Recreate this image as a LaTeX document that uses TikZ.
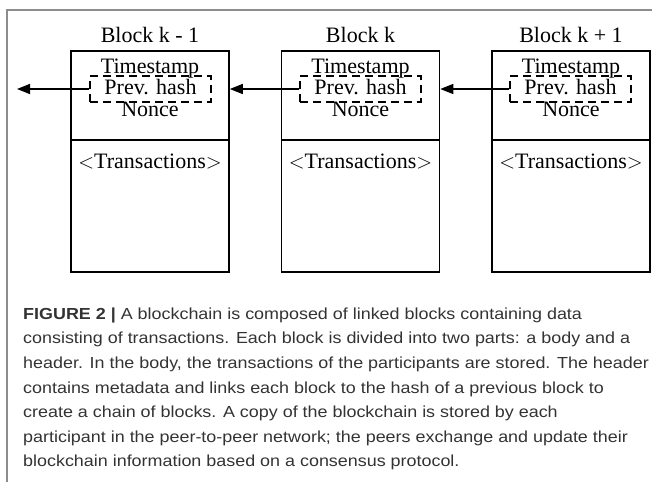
\documentclass[tikz,border=0pt]{standalone}
\usepackage{fontspec}
\setmainfont{Liberation Serif}
\newfontfamily\leyendafont[FakeStretch=1.12]{Liberation Sans}
\usetikzlibrary{arrows.meta}
\tikzset{
  bloque/.style={draw, line width=1.6pt, minimum width=158pt, inner sep=0pt},
  hashcaja/.style={draw, dash pattern=on 8pt off 5pt, line width=1.5pt, minimum width=121pt,
    minimum height=26pt, inner sep=0pt, text height=15pt, text depth=4pt, font=\fontsize{22}{24}\selectfont},
  texto/.style={font=\fontsize{22}{24}\selectfont, anchor=base, inner sep=0pt},
  flecha/.style={-{Triangle[length=13pt,width=10pt]}, line width=1.5pt},
  marco/.style={draw=black!45, line width=1.2pt},
  leyenda/.style={font=\leyendafont\fontsize{16}{24.6}\selectfont, text=black!80, align=left,
    anchor=base west, inner sep=0pt},
}
\begin{document}
\begin{tikzpicture}[x=1pt,y=-1pt] %Cadena de bloques
            \useasboundingbox (0,0) rectangle (652,482);
            \draw[marco] (7,482) -- (7,10) -- (652,10);

            % cabecera y cuerpo de cada bloque
            \node[bloque, minimum height=89pt] (cab1) at (150,95.5) {};
            \node[bloque, minimum height=132pt] (cuerpo1) at (150,206) {};
            \node[bloque, minimum height=89pt] (cab2) at (360.5,95.5) {};
            \node[bloque, minimum height=132pt] (cuerpo2) at (360.5,206) {};
            \node[bloque, minimum height=89pt] (cab3) at (571,95.5) {};
            \node[bloque, minimum height=132pt] (cuerpo3) at (571,206) {};

            \node[texto] (tit1) at (150,42) {Block k - 1};
            \node[texto] (tit2) at (360.5,42) {Block k};
            \node[texto] (tit3) at (571,42) {Block k + 1};

            \node[texto] (tiempo1) at (150,73) {Timestamp};
            \node[texto] (tiempo2) at (360.5,73) {Timestamp};
            \node[texto] (tiempo3) at (571,73) {Timestamp};

            \node[hashcaja] (hash1) at (150.5,89) {Prev. hash};
            \node[hashcaja] (hash2) at (360.5,89) {Prev. hash};
            \node[hashcaja] (hash3) at (570.5,89) {Prev. hash};

            \node[texto] (nonce1) at (150,116.5) {Nonce};
            \node[texto] (nonce2) at (360.5,116.5) {Nonce};
            \node[texto] (nonce3) at (571,116.5) {Nonce};

            \node[texto] (trans1) at (150,168) {$<$Transactions$>$};
            \node[texto] (trans2) at (360.5,168) {$<$Transactions$>$};
            \node[texto] (trans3) at (571,168) {$<$Transactions$>$};

            % enlaces al bloque anterior
            \coordinate (fin) at (17,89);
            \draw[flecha] (hash1.west) -- (fin);
            \draw[flecha] (hash2.west) -- (hash2.west -| cab1.east);
            \draw[flecha] (hash3.west) -- (hash3.west -| cab2.east);

            % pie de figura (la base es la ultima linea)
            \node[leyenda] (pie) at (23,466.9) {\textbf{FIGURE 2 |} A blockchain is composed of linked blocks containing data\\
consisting of transactions. Each block is divided into two parts: a body and a\\
header. In the body, the transactions of the participants are stored. The header\\
contains metadata and links each block to the hash of a previous block to\\
create a chain of blocks. A copy of the blockchain is stored by each\\
participant in the peer-to-peer network; the peers exchange and update their\\
blockchain information based on a consensus protocol.};
        \end{tikzpicture}
\end{document}
